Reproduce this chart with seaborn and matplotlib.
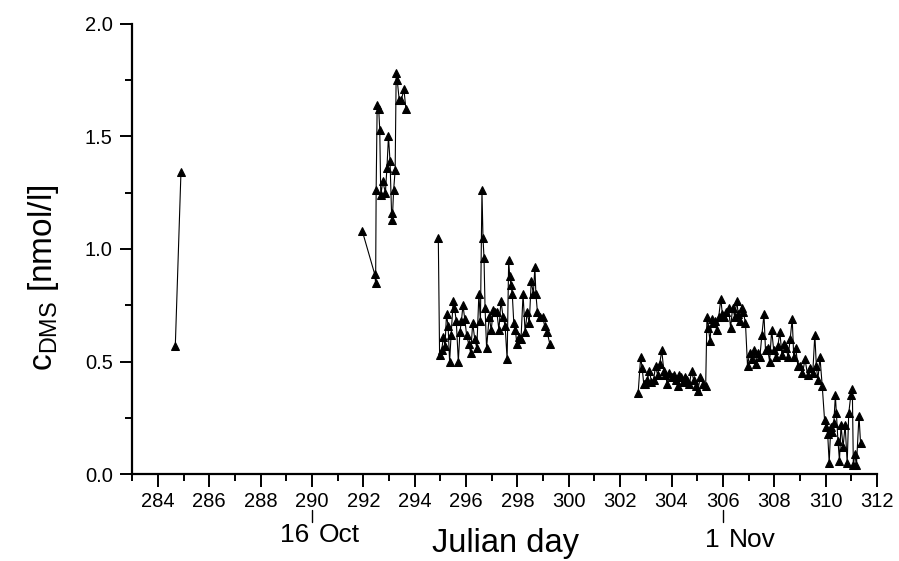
import numpy as np
import pandas as pd
import matplotlib
matplotlib.use("Agg")
import matplotlib.pyplot as plt
import seaborn as sns
from matplotlib.ticker import MultipleLocator

# DMS concentration time series (Julian day, nmol/l), one list per cruise leg
leg1_day = [284.68, 284.90]
leg1_dms = [0.57, 1.34]

leg2_day = [291.96, 292.44, 292.48, 292.50, 292.54, 292.60, 292.64, 292.68, 292.76,
            292.86, 292.92, 292.98, 293.04, 293.10, 293.13, 293.18, 293.24, 293.28,
            293.32, 293.40, 293.48, 293.58, 293.66]
leg2_dms = [1.08, 0.89, 0.85, 1.26, 1.64, 1.62, 1.53, 1.24, 1.30,
            1.25, 1.36, 1.50, 1.39, 1.16, 1.13, 1.26, 1.35, 1.78,
            1.75, 1.66, 1.66, 1.71, 1.62]

leg3_day = [294.92, 294.97, 295.05, 295.12, 295.18, 295.24, 295.30, 295.36, 295.42,
            295.50, 295.55, 295.62, 295.70, 295.76, 295.82, 295.88, 295.95, 296.02,
            296.10, 296.18, 296.26, 296.34, 296.42, 296.50, 296.56, 296.62, 296.66,
            296.70, 296.74, 296.80, 296.90, 296.98, 297.06, 297.12, 297.20, 297.28,
            297.36, 297.44, 297.52, 297.60, 297.66, 297.70, 297.75, 297.80, 297.86,
            297.92, 297.98, 298.06, 298.14, 298.22, 298.30, 298.38, 298.46, 298.54,
            298.62, 298.68, 298.72, 298.78, 298.88, 298.98, 299.06, 299.16, 299.26]
leg3_dms = [1.05, 0.53, 0.55, 0.61, 0.57, 0.71, 0.66, 0.50, 0.62,
            0.77, 0.74, 0.68, 0.50, 0.63, 0.68, 0.75, 0.69, 0.62,
            0.58, 0.54, 0.67, 0.60, 0.56, 0.80, 0.68, 1.26, 1.05,
            0.96, 0.74, 0.56, 0.70, 0.64, 0.73, 0.72, 0.72, 0.64,
            0.77, 0.70, 0.66, 0.51, 0.95, 0.88, 0.84, 0.80, 0.67,
            0.64, 0.58, 0.61, 0.60, 0.80, 0.63, 0.72, 0.67, 0.86,
            0.80, 0.92, 0.80, 0.72, 0.70, 0.70, 0.66, 0.63, 0.58]

leg4_day = [302.70, 302.80, 302.86, 302.92, 302.98, 303.06, 303.14, 303.22, 303.30,
            303.38, 303.46, 303.54, 303.62, 303.70, 303.76, 303.84, 303.92, 304.00,
            304.08, 304.16, 304.24, 304.30, 304.38, 304.46, 304.54, 304.62, 304.70,
            304.78, 304.86, 304.94, 305.02, 305.12, 305.24, 305.33, 305.38, 305.44,
            305.50, 305.56, 305.62, 305.68, 305.76, 305.84, 305.92, 305.98, 306.06,
            306.14, 306.22, 306.30, 306.38, 306.46, 306.54, 306.60, 306.68, 306.74,
            306.80, 306.88, 306.96, 307.04, 307.12, 307.20, 307.28, 307.36, 307.44,
            307.52, 307.60, 307.66, 307.74, 307.82, 307.90, 307.98, 308.06, 308.14,
            308.22, 308.30, 308.38, 308.46, 308.54, 308.62, 308.70, 308.76, 308.84,
            308.92, 309.00, 309.10, 309.20, 309.30, 309.40, 309.50, 309.58, 309.64,
            309.70, 309.78, 309.87, 309.96, 310.02, 310.08, 310.14, 310.20, 310.26,
            310.32, 310.38, 310.42, 310.48, 310.54, 310.60, 310.68, 310.76, 310.84,
            310.90, 310.98, 311.04, 311.08, 311.14, 311.20, 311.30, 311.36]
leg4_dms = [0.36, 0.52, 0.47, 0.40, 0.40, 0.42, 0.46, 0.41, 0.42,
            0.48, 0.44, 0.49, 0.55, 0.46, 0.44, 0.40, 0.45, 0.43,
            0.44, 0.42, 0.39, 0.44, 0.43, 0.41, 0.43, 0.42, 0.40,
            0.46, 0.42, 0.39, 0.37, 0.43, 0.40, 0.39, 0.70, 0.65,
            0.59, 0.69, 0.67, 0.68, 0.64, 0.70, 0.78, 0.71, 0.70,
            0.72, 0.74, 0.65, 0.74, 0.70, 0.77, 0.71, 0.68, 0.74,
            0.72, 0.67, 0.48, 0.54, 0.51, 0.55, 0.49, 0.54, 0.52,
            0.62, 0.71, 0.55, 0.56, 0.50, 0.64, 0.55, 0.52, 0.57,
            0.63, 0.53, 0.58, 0.56, 0.52, 0.60, 0.69, 0.52, 0.56,
            0.48, 0.48, 0.45, 0.51, 0.44, 0.47, 0.45, 0.62, 0.48,
            0.42, 0.52, 0.39, 0.24, 0.21, 0.18, 0.05, 0.21, 0.19,
            0.23, 0.35, 0.27, 0.15, 0.06, 0.22, 0.12, 0.22, 0.05,
            0.27, 0.35, 0.38, 0.04, 0.09, 0.04, 0.26, 0.14]

x_major_ticks = list(range(284, 313, 2))
y_major_ticks = [0.0, 0.5, 1.0, 1.5, 2.0]
# (day, left part, right part, baseline offset in axes fraction)
date_marks = [(290.0, "16", "Oct", -0.15), (306.0, "1", "Nov", -0.161)]

frames = []
for i, (d, c) in enumerate([(leg1_day, leg1_dms), (leg2_day, leg2_dms),
                            (leg3_day, leg3_dms), (leg4_day, leg4_dms)]):
    frames.append(pd.DataFrame({"day": d, "dms": c, "leg": i}))
df = pd.concat(frames, ignore_index=True)

sns.set_theme(style="ticks")
plt.rcParams["font.family"] = ["Liberation Sans", "DejaVu Sans"]

fig = plt.figure(figsize=(8.99, 5.61), dpi=100)
ax = fig.add_axes([0.147, 0.1545, 0.8285, 0.8033])

sns.lineplot(data=df, x="day", y="dms", units="leg", estimator=None, sort=False,
             color="black", linewidth=0.8, marker="^", markersize=6,
             markeredgecolor="black", markerfacecolor="black", ax=ax, legend=False)

ax.set_xlim(283, 312)
ax.set_ylim(0, 2.0)
ax.set_xticks(x_major_ticks)
ax.xaxis.set_minor_locator(MultipleLocator(1))
ax.set_yticks(y_major_ticks)
ax.set_yticklabels([f"{v:.1f}" for v in y_major_ticks])
ax.yaxis.set_minor_locator(MultipleLocator(0.25))

for s in ("top", "right"):
    ax.spines[s].set_visible(False)
for s in ("left", "bottom"):
    ax.spines[s].set_linewidth(1.6)
    ax.spines[s].set_color("black")

ax.tick_params(axis="both", which="major", length=9, width=1.4, color="black",
               labelsize=14.5, labelcolor="black", direction="out")
ax.tick_params(axis="both", which="minor", length=5, width=1.4, color="black",
               direction="out")
ax.tick_params(axis="x", which="major", pad=4)
ax.tick_params(axis="y", which="major", pad=5)

ax.set_xlabel("")
ax.set_ylabel("")

# axis titles
fig.text(0.5626, 0.0166, "Julian day", fontsize=23.5, ha="center", va="baseline",
         color="black")
fig.text(0.048, 0.505, r"c$_{\mathregular{DMS}}$ [nmol/l]", fontsize=24,
         rotation=90, ha="center", va="center", color="black")

# calendar date markers below the day axis
trans = ax.get_xaxis_transform()
for day, left, right, base in date_marks:
    ax.plot([day, day], [-0.08, -0.105], transform=trans, color="black",
            linewidth=1.0, clip_on=False)
    ax.text(day - 0.12, base, left, transform=trans, fontsize=19,
            ha="right", va="baseline", color="black")
    ax.text(day + 0.25, base, right, transform=trans, fontsize=19,
            ha="left", va="baseline", color="black")

fig.savefig("out.png", dpi=100, facecolor="white")
